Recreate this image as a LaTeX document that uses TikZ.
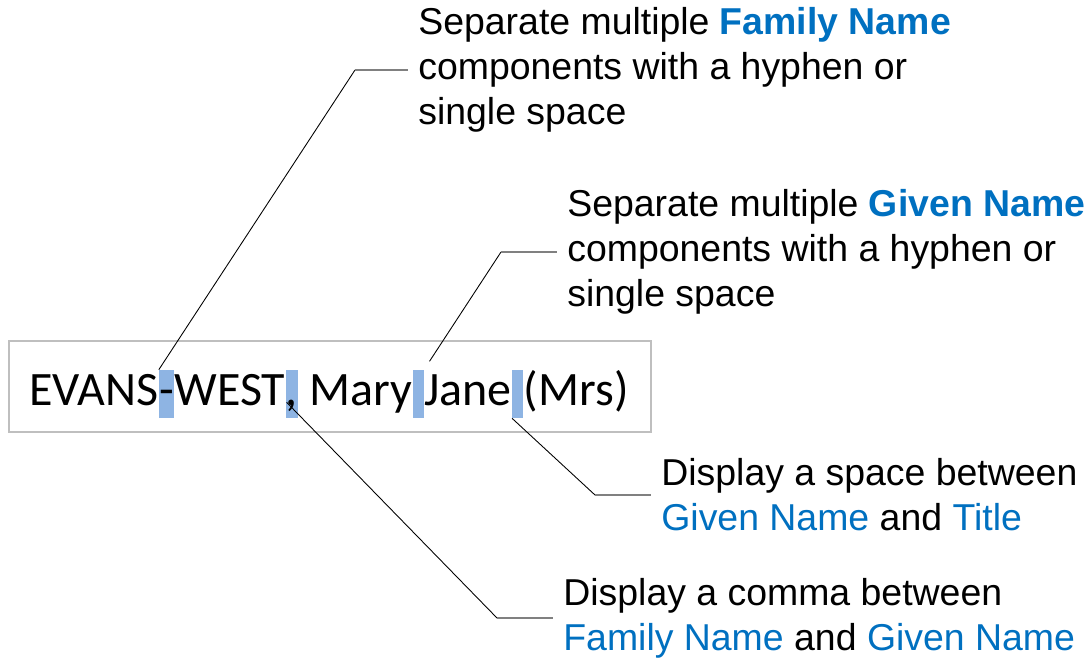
\documentclass[tikz,border=0pt]{standalone}
\usepackage{fontspec}
\usepackage{xcolor}
\usepackage{tikz}
\setmainfont{Liberation Sans}
\newfontfamily\namefont{Carlito}
\usetikzlibrary{arrows.meta, positioning}
\definecolor{nameblue}{HTML}{0070C0}
\definecolor{hlblue}{HTML}{8EB4E3}
\definecolor{boxgray}{HTML}{BFBFBF}
\definecolor{elbowgray}{HTML}{808080}
\tikzset{
  name part/.style={inner sep=0pt, text height=0.7cm, text depth=0.26cm, font=\namefont\fontsize{27.3}{32}\selectfont},
  mark box/.style={name part, fill=hlblue},
  callout/.style={anchor=west, align=left, inner xsep=0.2cm, inner ysep=0pt, font=\fontsize{21.3}{25.5}\selectfont},
  leader/.style={black, line width=0.5pt},
  elbow/.style={elbowgray, line width=1.1pt}
}
\newcommand{\hl}[1]{\textcolor{nameblue}{#1}}

\begin{document}
\begin{tikzpicture}[x=0.02cm, y=-0.02cm]
\useasboundingbox (0,0) rectangle (1087,658);

% The name box
\draw[boxgray, line width=1.1pt] (9,341) rectangle (651,432);

% The name, piece by piece, with the highlight marks
\node[name part, anchor=base west] (nEvans) at (29,405) {EVANS};
\node[mark box, right=0pt of nEvans] (hlFam) {-};
\node[name part, right=0pt of hlFam] (nWest) {WEST};
\node[mark box, right=0pt of nWest] (hlComma) {,};
\node[name part, right=0pt of hlComma] (nMary) {\mbox{\ }Mary};
\node[mark box, right=0pt of nMary] (hlGiven) {\mbox{\ }};
\node[name part, right=0pt of hlGiven] (nJane) {Jane};
\node[mark box, right=0pt of nJane] (hlTitle) {\mbox{\ }};
\node[name part, right=0pt of hlTitle] (nMrs) {(Mrs)};

% Define the callout texts
\node[callout] (famText) at (408,70) {Separate multiple \textbf{\hl{Family Name}}\\components with a hyphen or\\single space};
\node[callout] (givenText) at (557,252) {Separate multiple \textbf{\hl{Given Name}}\\components with a hyphen or\\single space};
\node[callout] (titleText) at (651,495) {Display a space between\\\hl{Given Name} and \hl{Title}};
\node[callout] (commaText) at (553,618) {Display a comma between\\\hl{Family Name} and \hl{Given Name}};

% Elbow points of the leaders
\coordinate (famElbow) at (355,70);
\coordinate (givenElbow) at (501,252);
\coordinate (titleElbow) at (595,495);
\coordinate (commaElbow) at (497,618);
\coordinate (commaPt) at ([shift={(1,-16)}]hlComma.south west);

% Add the leaders
\draw[leader] (hlFam.north west) -- (famElbow);
\draw[elbow] (famElbow) -- (famText.west);
\draw[leader, shorten <=0.2cm] (hlGiven.north east) -- (givenElbow);
\draw[elbow] (givenElbow) -- (givenText.west);
\draw[leader] (hlTitle.south west) -- (titleElbow);
\draw[elbow] (titleElbow) -- (titleText.west);
\draw[leader] (commaPt) -- (commaElbow);
\draw[elbow] (commaElbow) -- (commaText.west);

\end{tikzpicture}
\end{document}
